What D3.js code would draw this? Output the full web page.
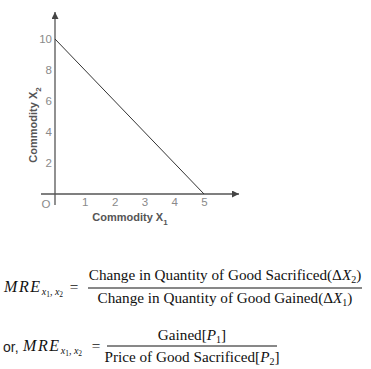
<!DOCTYPE html>
<meta charset="utf-8">
<style>
  body { margin: 0; background: #fff; }
  .tick-label { font-family: "Liberation Sans", Arial, sans-serif; font-size: 11.5px; fill: #8a8a8a; }
  .title { font-family: "Liberation Sans", Arial, sans-serif; font-size: 11px; font-weight: bold; fill: #555; }
  .eq { font-family: "Liberation Serif", "Times New Roman", serif; font-size: 15.2px; fill: #111; }
  .or { font-family: "Liberation Sans", Arial, sans-serif; font-size: 14px; fill: #222; }
</style>
<body>
<script src="https://d3js.org/d3.v7.min.js"></script>
<script>

// values
var xTicks = [1, 2, 3, 4, 5];
var yTicks = [2, 4, 6, 8, 10];
var budgetLine = [{x: 0, y: 10}, {x: 5, y: 0}];

var width = 371, height = 369;

var svg = d3.select("body").append("svg")
    .attr("width", width)
    .attr("height", height);

var x = d3.scaleLinear().domain([0, 5]).range([55, 204]);
var y = d3.scaleLinear().domain([0, 10]).range([194, 39]);

// arrow head
svg.append("defs").append("marker")
    .attr("id", "arrow")
    .attr("viewBox", "0 0 10 10")
    .attr("refX", 10).attr("refY", 5)
    .attr("markerWidth", 7).attr("markerHeight", 7)
    .attr("markerUnits", "userSpaceOnUse")
    .attr("orient", "auto")
  .append("path")
    .attr("d", "M0,0L10,5L0,10z")
    .attr("fill", "#444");

/*
** axes: plain lines with arrows, labels from axis generators
*/
svg.append("line")
    .attr("x1", x(0)).attr("x2", x(0))
    .attr("y1", y(0) + 11).attr("y2", 12)
    .attr("stroke", "#555").attr("stroke-width", 1.3)
    .attr("marker-end", "url(#arrow)");

svg.append("line")
    .attr("x1", x(0) - 14).attr("x2", 239)
    .attr("y1", y(0)).attr("y2", y(0))
    .attr("stroke", "#555").attr("stroke-width", 1.3)
    .attr("marker-end", "url(#arrow)");

var yAxis = svg.append("g")
    .attr("transform", "translate(" + (x(0) - 3) + ",0)")
    .call(d3.axisLeft(y).tickValues(yTicks).tickFormat(d3.format("d")).tickSize(0).tickPadding(0));
yAxis.select(".domain").remove();
yAxis.selectAll("text").attr("class", "tick-label").attr("fill", null).attr("font-size", null).attr("font-family", null);

var xAxis = svg.append("g")
    .attr("transform", "translate(0," + (y(0) + 4) + ")")
    .call(d3.axisBottom(x).tickValues(xTicks).tickFormat(d3.format("d")).tickSize(0).tickPadding(0));
xAxis.select(".domain").remove();
xAxis.selectAll("text").attr("class", "tick-label").attr("fill", null).attr("font-size", null).attr("font-family", null);

svg.append("text")
    .attr("class", "tick-label")
    .attr("x", x(0) - 9).attr("y", y(0) + 14)
    .attr("text-anchor", "middle")
    .text("O");

// the line
svg.append("path")
    .datum(budgetLine)
    .attr("d", d3.line().x(function(d) { return x(d.x); }).y(function(d) { return y(d.y); }))
    .attr("fill", "none")
    .attr("stroke", "#333")
    .attr("stroke-width", 1);

// axis titles
var xt = svg.append("text").attr("class", "title")
    .attr("x", 130).attr("y", 221).attr("text-anchor", "middle");
xt.append("tspan").text("Commodity X");
xt.append("tspan").attr("font-size", "8px").attr("dy", 4).text("1");

var yt = svg.append("text").attr("class", "title")
    .attr("transform", "translate(37,125) rotate(-90)")
    .attr("text-anchor", "middle");
yt.append("tspan").text("Commodity X");
yt.append("tspan").attr("font-size", "8px").attr("dy", 4).text("2");

/*
** formulas
*/
// write a list of pieces into a text element
function rich(sel, pieces) {
  var shift = 0;
  pieces.forEach(function(p) {
    var t = sel.append("tspan").text(p.t);
    var target = p.dy || 0;
    if (target !== shift) { t.attr("dy", target - shift); shift = target; }
    if (p.i) t.attr("font-style", "italic");
    if (p.s) t.attr("font-size", p.s + "px");
    if (p.ls) t.attr("letter-spacing", p.ls);
  });
}

var mreSub = [
  {t: "MRE", i: true, s: 16, ls: 1.6},
  {t: "x", i: true, s: 10, dy: 3},
  {t: "1", s: 7.5, dy: 5},
  {t: ", ", s: 10, dy: 3},
  {t: "x", i: true, s: 10, dy: 3},
  {t: "2", s: 7.5, dy: 5}
];

var f1 = svg.append("g");
rich(f1.append("text").attr("class", "eq").attr("x", 4).attr("y", 292), mreSub);
f1.append("text").attr("class", "eq").attr("x", 74).attr("y", 292)
    .attr("text-anchor", "middle").attr("font-size", "16px").text("=");
f1.append("line").attr("x1", 88).attr("x2", 362).attr("y1", 288).attr("y2", 288)
    .attr("stroke", "#111").attr("stroke-width", 1);
rich(f1.append("text").attr("class", "eq").attr("x", 225).attr("y", 280).attr("text-anchor", "middle"), [
  {t: "Change in Quantity of Good Sacrificed(Δ"},
  {t: "X", i: true},
  {t: "2", s: 10, dy: 3},
  {t: ")", dy: 0}
]);
rich(f1.append("text").attr("class", "eq").attr("x", 225).attr("y", 303).attr("text-anchor", "middle"), [
  {t: "Change in Quantity of Good Gained(Δ"},
  {t: "X", i: true},
  {t: "1", s: 10, dy: 3},
  {t: ")", dy: 0}
]);

var f2 = svg.append("g");
f2.append("text").attr("class", "or").attr("x", 3).attr("y", 352).text("or,");
rich(f2.append("text").attr("class", "eq").attr("x", 23).attr("y", 351), mreSub);
f2.append("text").attr("class", "eq").attr("x", 96).attr("y", 351)
    .attr("text-anchor", "middle").attr("font-size", "16px").text("=");
f2.append("line").attr("x1", 107).attr("x2", 277).attr("y1", 346).attr("y2", 346)
    .attr("stroke", "#111").attr("stroke-width", 1);
rich(f2.append("text").attr("class", "eq").attr("x", 192).attr("y", 340).attr("text-anchor", "middle"), [
  {t: "Gained["},
  {t: "P", i: true},
  {t: "1", s: 10, dy: 3},
  {t: "]", dy: 0}
]);
rich(f2.append("text").attr("class", "eq").attr("x", 192).attr("y", 362).attr("text-anchor", "middle"), [
  {t: "Price of Good Sacrificed["},
  {t: "P", i: true},
  {t: "2", s: 10, dy: 3},
  {t: "]", dy: 0}
]);

</script>
</body>
</html>
